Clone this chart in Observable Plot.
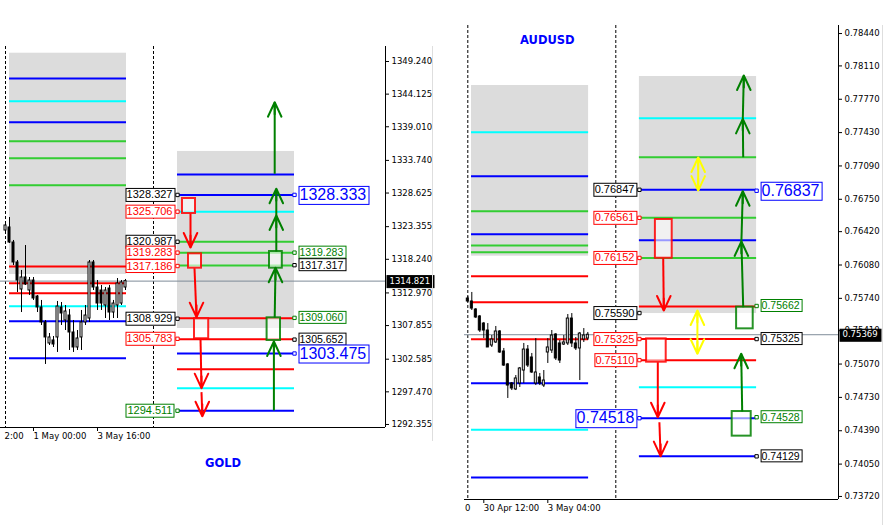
<!DOCTYPE html>
<html><head><meta charset="utf-8">
<script src="https://cdn.jsdelivr.net/npm/d3@7"></script>
<script src="https://cdn.jsdelivr.net/npm/@observablehq/plot@0.6"></script>
<style>
body{margin:0;background:#fff;width:886px;height:525px;overflow:hidden;position:relative}
#gold{position:absolute;left:0;top:0;width:440px;height:445px}
#aud{position:absolute;left:464px;top:0;width:422px;height:525px}
.title{position:absolute;color:#0000ff;font:bold 11.5px "DejaVu Sans";line-height:12px}
.sep{position:absolute;width:1px;background:#dedede}
</style></head><body>
<div id="gold"></div><div id="aud"></div>
<div class="title" style="left:205px;top:457px">GOLD</div>
<div class="title" style="left:520px;top:34px">AUDUSD</div>
<div class="sep" style="left:432px;top:46px;height:395px"></div>
<div class="sep" style="left:882px;top:25px;height:500px"></div>
<script>
// ---------------- GOLD ----------------
const goldOpen  = [1322.75,1323.23,1320.87,1317.74,1313.51,1315.39,1313.35,1314.92,1312.41,1310.69,1308.34,1305.05,1305.52,1305.99,1310.69,1308.65,1309.43,1306.77,1304.42,1305.99,1308.34,1308.96,1317.74,1313.82,1313.35,1311.00,1313.66,1309.90,1311.00,1311.31,1313.82];
const goldHigh  = [1324.01,1324.79,1321.19,1318.05,1316.49,1320.40,1315.39,1315.39,1312.57,1311.79,1308.65,1306.61,1306.14,1311.63,1311.47,1311.00,1310.37,1308.65,1307.08,1310.22,1311.00,1318.05,1318.05,1314.92,1314.14,1313.82,1314.14,1311.79,1315.23,1314.92,1315.08];
const goldLow   = [1322.28,1320.72,1317.27,1313.04,1309.90,1314.14,1312.57,1311.79,1309.90,1307.87,1301.76,1304.73,1304.42,1303.64,1307.87,1307.08,1303.95,1303.64,1303.95,1303.95,1307.87,1308.34,1313.35,1310.22,1310.22,1308.96,1308.65,1308.96,1308.96,1311.00,1313.35];
const goldClose = [1323.54,1320.87,1317.74,1314.92,1315.39,1314.29,1314.92,1312.10,1310.69,1308.34,1305.99,1305.99,1304.89,1310.84,1309.75,1310.06,1306.77,1304.42,1305.83,1308.34,1309.43,1317.74,1313.82,1311.31,1311.31,1313.35,1309.90,1311.31,1314.45,1314.61,1314.82];
const goldLast = 1314.821;
const goldTicks = [1349.240,1344.125,1339.010,1333.740,1328.625,1323.355,1318.240,1312.970,1307.855,1302.585,1297.470,1292.355];
const goldTimeBars = [7, 23];
const goldTimeLabels = ["1 May 00:00", "3 May 16:00"];
const goldFragBars = [-0.25];
const goldFragLabels = ["2:00"];
const goldSeparators = [0, 37];
const goldSpanA = [1, 30.25];
const goldSpanB = [43, 72.25];
const goldZoneA = [1350.54, 1315.86];
const goldZoneB = [1335.14, 1307.40];
const goldLevelsA = [1346.58,1343.02,1339.73,1336.75,1334.09,1329.85,1317.11,1314.50,1312.93,1310.89,1308.54,1302.74];
const goldLevelsAKind = ["pivot","mid","pivot","upper","upper","upper","lower","lower","lower","mid","pivot","pivot"];
const goldLevelsB = [1331.53,1328.33,1325.706,1320.987,1319.283,1317.25,1309.00,1305.72,1303.475,1301.00,1298.04,1294.511];
const goldLevelsBKind = ["pivot","pivot","mid","upper","upper","upper","lower","lower","pivot","lower","mid","pivot"];
const goldLabelsA = [1328.327,1325.706,1320.987,1319.283,1317.186,1308.929,1305.783,1294.511];
const goldLabelsAKind = ["level","sell","level","sell","sell","level","sell","buy"];
const goldLabelsB = [1328.333,1319.283,1317.317,1309.060,1305.652,1303.475];
const goldLabelsBKind = ["target","buy","level","buy","level","target"];
// boxes: [bar1, bar2, price1, price2]; arrows: [bar1, price1, bar2, price2 (tip)]
const goldSellBoxes = [[44.25,47.5,1327.77,1325.42],[45.75,49,1319.10,1316.85],[47.25,50.8,1308.92,1305.79]];
const goldSellArrows = [[46.25,1325.42,46.25,1320.09],[47.25,1316.85,47.75,1309.17],[48.75,1305.79,49,1298.04],[49,1297.42,49.2,1293.65]];
const goldBuyBoxes = [[65.4,68.75,1309.07,1305.52],[66,69.2,1319.46,1316.85]];
const goldBuyArrows = [[67.1,1294.55,67.1,1305.36],[67.3,1309.07,67.5,1316.91],[67.7,1319.46,67.7,1325.11],[67.7,1325.11,67.7,1329.29],[67.3,1331.64,67.3,1342.86]];
const goldRangeArrows = [];

// ---------------- AUDUSD ----------------
const audOpen  = [0.75738,0.75708,0.75626,0.75555,0.75483,0.75412,0.75259,0.75290,0.75402,0.75198,0.75066,0.74872,0.74811,0.74872,0.75004,0.75218,0.75137,0.74872,0.74933,0.74851,0.75188,0.75208,0.75371,0.75280,0.75269,0.75280,0.75534,0.75280,0.75229,0.75320,0.75330];
const audHigh  = [0.75759,0.75800,0.75636,0.75565,0.75494,0.75483,0.75361,0.75453,0.75412,0.75229,0.75076,0.74882,0.74953,0.75035,0.75280,0.75259,0.75178,0.75330,0.74974,0.75004,0.75330,0.75412,0.75381,0.75310,0.75361,0.75575,0.75585,0.75341,0.75392,0.75432,0.75392];
const audLow   = [0.75698,0.75616,0.75534,0.75392,0.75330,0.75239,0.75239,0.75280,0.75178,0.75045,0.74719,0.74800,0.74800,0.74831,0.74872,0.75035,0.74974,0.74851,0.74851,0.74831,0.75076,0.75178,0.75106,0.75076,0.75259,0.75259,0.75239,0.75208,0.74902,0.75290,0.75310];
const audClose = [0.75708,0.75636,0.75545,0.75412,0.75412,0.75239,0.75320,0.75402,0.75188,0.75055,0.74851,0.74821,0.74923,0.75025,0.75218,0.75055,0.74984,0.74984,0.74872,0.74902,0.75239,0.75361,0.75127,0.75106,0.75290,0.75534,0.75280,0.75229,0.75381,0.75361,0.75369];
const audLast = 0.75369;
const audTicks = [0.78440,0.78110,0.77770,0.77430,0.77090,0.76750,0.76420,0.76080,0.75740,0.75410,0.75070,0.74730,0.74390,0.74050,0.73720];
const audTimeBars = [4, 20];
const audTimeLabels = ["30 Apr 12:00", "3 May 04:00"];
const audFragBars = [-0.7];
const audFragLabels = ["0"];
const audSeparators = [0, 37];
const audSpanA = [0.93, 30.2];
const audSpanB = [42.9, 72.2];
const audZoneA = [0.77910, 0.76170];
const audZoneB = [0.78002, 0.75585];
const audLevelsA = [0.77434,0.76985,0.76628,0.76394,0.76279,0.76210,0.75966,0.75701,0.75323,0.74875,0.74400,0.73914];
const audLevelsAKind = ["mid","pivot","upper","pivot","upper","upper","lower","lower","lower","pivot","mid","pivot"];
const audLevelsB = [0.77577,0.77179,0.76847,0.76561,0.76333,0.76152,0.75656,0.75325,0.75110,0.74834,0.74518,0.74129];
const audLevelsBKind = ["mid","upper","pivot","upper","pivot","upper","lower","lower","lower","mid","pivot","pivot"];
const audLabelsA = [0.76847,0.76561,0.76152,0.75590,0.75325,0.75110,0.74518];
const audLabelsAKind = ["level","sell","sell","level","sell","sell","target"];
const audLabelsB = [0.76837,0.75662,0.75325,0.74528,0.74129];
const audLabelsBKind = ["target","buy","level","buy","level"];
const audSellBoxes = [[46.9,51.1,0.76544,0.76149],[44.7,49.6,0.75327,0.75089]];
const audSellArrows = [[48.85,0.76149,49.0,0.75616],[47.5,0.75089,47.5,0.74528],[47.9,0.74477,48.2,0.74131]];
const audBuyBoxes = [[66.1,70.85,0.74586,0.74335],[67.2,71.35,0.75650,0.75429]];
const audBuyArrows = [[68.6,0.74586,68.35,0.75175],[68.85,0.75650,68.4,0.76320],[68.4,0.76320,68.75,0.76832],[68.85,0.77179,68.75,0.77570],[68.75,0.77570,69.0,0.78012]];
const audRangeArrows = [[57.6,0.77176,57.6,0.76839],[57.4,0.75616,57.4,0.75175]];

const kinds = ["pivot","mid","upper","lower","level","sell","buy","target","range"];
const kindColors = ["#0000ff","#00ffff","#32cd32","#ff0000","#000000","#ff0000","#008000","#0000ff","#ffff00"];

function makePanel(c) {
  const candles = c.open.map((o, i) => ({i, open: o, high: c.high[i], low: c.low[i], close: c.close[i]}));
  const zip = (vals, ks) => vals.map((value, k) => ({value, kind: ks[k]}));
  const levA = zip(c.levelsA, c.levelsAKind), levB = zip(c.levelsB, c.levelsBKind);
  const labA = zip(c.labelsA, c.labelsAKind), labB = zip(c.labelsB, c.labelsBKind);
  const plotH = c.height - c.mt - c.mb;
  const span = 60 * (c.ydom[1] - c.ydom[0]) / plotH;
  const toBox = b => ({x1: b[0], x2: b[1], y1: b[2], y2: b[3]});
  const toArrow = a => ({x1: a[0], y1: a[1], x2: a[2], y2: a[3]});
  const sellB = c.sellBoxes.map(toBox), buyB = c.buyBoxes.map(toBox);
  const sellA = c.sellArrows.map(toArrow), buyA = c.buyArrows.map(toArrow), rangeA = c.rangeArrows.map(toArrow);
  const shafts = (arr, kind) => Plot.link(arr, {x1: "x1", y1: "y1", x2: "x2", y2: "y2", stroke: () => kind, strokeWidth: 2});
  const heads = (arr, kind, rev) => Plot.arrow(arr, {
    x1: rev ? "x1" : "x2", x2: rev ? "x1" : "x2",
    y1: d => rev ? d.y1 + Math.sign(d.y2 - d.y1) * span : d.y2 - Math.sign(d.y2 - d.y1) * span,
    y2: rev ? "y1" : "y2",
    stroke: () => kind, strokeWidth: 2, headLength: 12, headAngle: 50, insetStart: 48
  });
  const boxes = (arr, kind) => Plot.rect(arr, {x1: "x1", x2: "x2", y1: "y1", y2: "y2", stroke: () => kind, strokeWidth: 2, strokeOpacity: 0.85, fill: "white", fillOpacity: 0.6});
  const lblText = (arr, anchor, side, small) => [
    Plot.text(arr.filter(d => d.kind !== "target"), {x: anchor, y: "value", text: d => c.fmt(d.value), textAnchor: side < 0 ? "end" : "start", dx: 5 * side, fill: "kind", fontSize: small, fontFamily: "Liberation Sans", ariaDescription: "boxlabel"}),
    Plot.text(arr.filter(d => d.kind === "target"), {x: anchor, y: "value", text: d => c.fmt(d.value), textAnchor: side < 0 ? "end" : "start", dx: 5 * side, fill: "kind", fontSize: 16, fontFamily: "Liberation Sans", ariaDescription: "boxlabel"}),
    Plot.dot(arr, {x: anchor, y: "value", symbol: "square", r: 1.9, stroke: "kind", fill: "white", strokeWidth: 1})
  ];
  return Plot.plot({
    width: c.width, height: c.height,
    marginLeft: 0, marginRight: c.mr, marginTop: c.mt, marginBottom: c.mb,
    x: {domain: c.xdom, label: null},
    y: {domain: c.ydom, label: null},
    color: {domain: kinds, range: kindColors},
    style: {fontFamily: "DejaVu Sans", fontSize: "8.5px", color: "black", background: "transparent"},
    marks: [
      Plot.rect([c.zoneA], {x1: c.spanA[0], x2: c.spanA[1], y1: d => d[0], y2: d => d[1], fill: "#dcdcdc"}),
      Plot.rect([c.zoneB], {x1: c.spanB[0], x2: c.spanB[1], y1: d => d[0], y2: d => d[1], fill: "#dcdcdc"}),
      Plot.ruleX(c.separators, {stroke: "black", strokeDasharray: "3,2"}),
      Plot.ruleY(levA, {y: "value", x1: c.spanA[0], x2: c.spanA[1], stroke: "kind", strokeWidth: 2}),
      Plot.ruleY(levB, {y: "value", x1: c.spanB[0], x2: c.spanB[1], stroke: "kind", strokeWidth: 2}),
      Plot.ruleY([c.last], {stroke: "#7f8c99"}),
      Plot.ruleX(candles, {x: "i", y1: "low", y2: "high", stroke: "black"}),
      Plot.rect(candles, {x1: d => d.i - 0.25, x2: d => d.i + 0.25, y1: "open", y2: "close", fill: d => d.close >= d.open ? "white" : "black", stroke: "black"}),
      boxes(sellB, "sell"), boxes(buyB, "buy"),
      shafts(sellA, "sell"), heads(sellA, "sell", false),
      shafts(buyA, "buy"), heads(buyA, "buy", false),
      shafts(rangeA, "range"), heads(rangeA, "range", false), heads(rangeA, "range", true),
      ...lblText(labA, c.spanB[0], -1, c.smallA),
      ...lblText(labB, c.spanB[1], 1, c.smallB),
      Plot.axisY({ticks: c.ticks, anchor: "right", tickFormat: c.fmt, tickSize: 3, tickPadding: 3, label: null}),
      Plot.axisX({ticks: c.timeBars, tickFormat: d => c.timeLabels[c.timeBars.indexOf(d)], textAnchor: "start", tickSize: 4, tickPadding: 1, label: null}),
      Plot.axisX({ticks: c.fragBars, tickFormat: d => c.fragLabels[c.fragBars.indexOf(d)], textAnchor: "start", tickSize: 0, tickPadding: 5, label: null}),
      Plot.ruleX([c.xdom[1]], {stroke: "black"}),
      Plot.ruleY([c.ydom[0]], {stroke: "black"}),
      Plot.text([c.last], {x: c.xdom[1], y: d => d, text: d => c.fmt(d), textAnchor: "start", dx: 4, fill: "white", ariaDescription: "pricetag"})
    ]
  });
}

function boxify(svg) {
  const NS = "http://www.w3.org/2000/svg";
  svg.querySelectorAll('g[aria-description="boxlabel"], g[aria-description="pricetag"]').forEach(g => {
    const tag = g.getAttribute("aria-description") === "pricetag";
    [...g.querySelectorAll("text")].forEach(t => {
      const b = t.getBBox();
      const fs = parseFloat(getComputedStyle(t).fontSize) || 10;
      const col = t.getAttribute("fill") || getComputedStyle(t).fill;
      const px = tag ? 3 : 1.5;
      const h = tag ? 12 : fs * 1.05 + 1;
      const cy = b.y + b.height / 2;
      const r = document.createElementNS(NS, "rect");
      r.setAttribute("x", Math.round(b.x - px) + 0.5);
      r.setAttribute("y", Math.round(cy - h / 2) + 0.5);
      r.setAttribute("width", Math.round(b.width + 2 * px));
      r.setAttribute("height", Math.round(h));
      r.setAttribute("fill", tag ? "black" : "white");
      r.setAttribute("stroke", tag ? "black" : col);
      r.setAttribute("stroke-width", 1);
      if (t.getAttribute("transform")) r.setAttribute("transform", t.getAttribute("transform"));
      g.insertBefore(r, t);
    });
  });
}

const gold = makePanel({
  width: 440, height: 445, mt: 46, mb: 18, mr: 55,
  xdom: [-1.25, 95], ydom: [1291.88, 1351.59],
  open: goldOpen, high: goldHigh, low: goldLow, close: goldClose, last: goldLast,
  ticks: goldTicks, fmt: d3.format(".3f"),
  timeBars: goldTimeBars, timeLabels: goldTimeLabels, fragBars: goldFragBars, fragLabels: goldFragLabels,
  separators: goldSeparators, spanA: goldSpanA, spanB: goldSpanB, zoneA: goldZoneA, zoneB: goldZoneB,
  levelsA: goldLevelsA, levelsAKind: goldLevelsAKind, levelsB: goldLevelsB, levelsBKind: goldLevelsBKind,
  labelsA: goldLabelsA, labelsAKind: goldLabelsAKind, labelsB: goldLabelsB, labelsBKind: goldLabelsBKind,
  sellBoxes: goldSellBoxes, sellArrows: goldSellArrows, buyBoxes: goldBuyBoxes, buyArrows: goldBuyArrows, rangeArrows: goldRangeArrows,
  smallA: 11, smallB: 10.5
});
document.getElementById("gold").append(gold);
boxify(gold);

const aud = makePanel({
  width: 422, height: 525, mt: 25, mb: 26, mr: 48,
  xdom: [-0.825, 92.675], ydom: [0.73689, 0.78522],
  open: audOpen, high: audHigh, low: audLow, close: audClose, last: audLast,
  ticks: audTicks, fmt: d3.format(".5f"),
  timeBars: audTimeBars, timeLabels: audTimeLabels, fragBars: audFragBars, fragLabels: audFragLabels,
  separators: audSeparators, spanA: audSpanA, spanB: audSpanB, zoneA: audZoneA, zoneB: audZoneB,
  levelsA: audLevelsA, levelsAKind: audLevelsAKind, levelsB: audLevelsB, levelsBKind: audLevelsBKind,
  labelsA: audLabelsA, labelsAKind: audLabelsAKind, labelsB: audLabelsB, labelsBKind: audLabelsBKind,
  sellBoxes: audSellBoxes, sellArrows: audSellArrows, buyBoxes: audBuyBoxes, buyArrows: audBuyArrows, rangeArrows: audRangeArrows,
  smallA: 11, smallB: 10.5
});
document.getElementById("aud").append(aud);
boxify(aud);
</script>
</body></html>
